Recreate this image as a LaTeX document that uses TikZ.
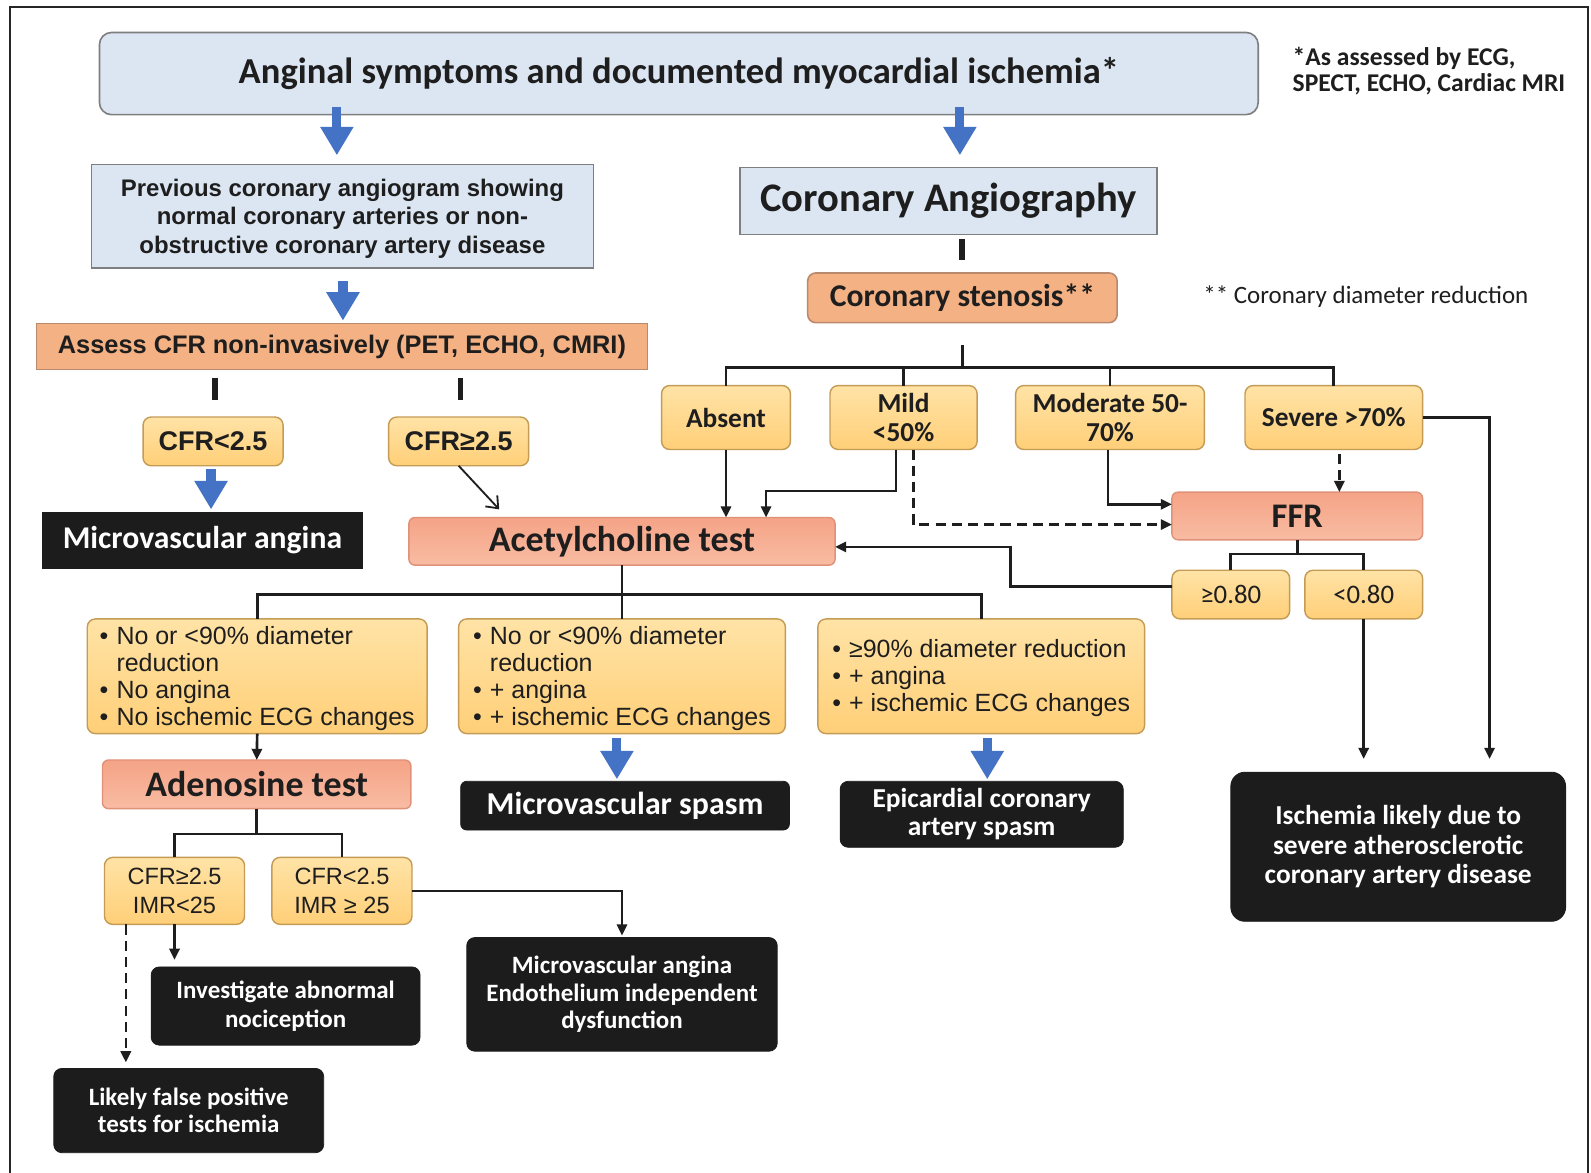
\documentclass[tikz,border=0pt]{standalone}
\usepackage{fontspec}
\setmainfont{Liberation Sans}
\newfontfamily\carl{Carlito}
\usetikzlibrary{arrows.meta,calc}
\definecolor{lblue}{HTML}{DCE6F2}
\definecolor{bordg}{HTML}{7F7F7F}
\definecolor{orng}{HTML}{F4B183}
\definecolor{orngd}{HTML}{B98A6E}
\definecolor{yelt}{HTML}{FFE3A6}
\definecolor{yelb}{HTML}{FFCF78}
\definecolor{yeld}{HTML}{C49C55}
\definecolor{salt}{HTML}{F5A386}
\definecolor{salb}{HTML}{F8BCA3}
\definecolor{sald}{HTML}{E0917A}
\definecolor{blk}{HTML}{1C1C1C}
\definecolor{arrblue}{HTML}{4472C4}
\definecolor{txt}{HTML}{1E1E1E}

\newcommand\bx[7]{%
 \pgfmathsetmacro\bxcx{(#3+#5)/2}%
 \pgfmathsetmacro\bxcy{(#4+#6)/2}%
 \pgfmathsetmacro\bxw{(#5-#3)*0.5}%
 \pgfmathsetmacro\bxh{(#6-#4)*0.5}%
 \node[#2, minimum width=\bxw pt, minimum height=\bxh pt] (#1) at (\bxcx,\bxcy) {#7};}
\newcommand\blist[1]{\raisebox{-1.5pt}[\height][\depth]{\begin{tabular}{@{}l@{\hspace{4pt}}l@{}}#1\end{tabular}}}
\newcommand\clist[1]{\raisebox{-1.5pt}[\height][\depth]{\begin{tabular}{@{}c@{}}#1\end{tabular}}}

\tikzset{
 base/.style={inner sep=0pt, outer sep=0pt, align=center, text=txt},
 bluebox/.style={base, fill=lblue, draw=bordg, line width=0.8pt},
 orbox/.style={base, fill=orng, draw=orngd, line width=0.8pt},
 ybox/.style={base, top color=yelt, bottom color=yelb, draw=yeld, line width=0.7pt, rounded corners=4pt},
 sbox/.style={base, top color=salt, bottom color=salb, draw=sald, line width=0.7pt, rounded corners=3pt},
 kbox/.style={base, fill=blk, draw=blk, text=white, rounded corners=4pt},
 conn/.style={line width=1.3pt, draw=txt},
 arr/.style={conn, -{Triangle[length=5.5pt,width=5pt]}},
 darr/.style={arr, dash pattern=on 5pt off 3pt},
 varr/.style={line width=0.9pt, draw=txt, -{Straight Barb[length=5pt,width=8pt]}},
 barr/.style={line width=4.5pt, draw=arrblue, -{Triangle[length=14pt,width=15.5pt]}},
 tbar/.style={line width=2.6pt, draw=txt},
}

\begin{document}
\begin{tikzpicture}[x=0.5pt,y=-0.5pt]
\useasboundingbox (0,0) rectangle (1568,1156);
\fill[white] (0,0) rectangle (1568,1156);
\draw[line width=1pt, draw=black!85] (10,1170) -- (10,7) -- (1565,7) -- (1565,1170);

% nodes
\bx{top}{bluebox, rounded corners=6pt, font=\carl\bfseries\fontsize{18}{21}\selectfont}{98}{32}{1240}{113}{Anginal symptoms and documented myocardial ischemia*}
\node[base, anchor=west, align=left, font=\carl\bfseries\fontsize{12.6}{13}\selectfont] (note1) at (1274,70) {*As assessed by ECG,\\SPECT, ECHO, Cardiac MRI};
\bx{prev}{bluebox, font=\bfseries\fontsize{11.8}{14}\selectfont}{90}{162}{585}{264}{\clist{Previous coronary angiogram showing\\normal coronary arteries or non-\\obstructive coronary artery disease}}
\bx{angio}{bluebox, font=\carl\bfseries\fontsize{20}{24}\selectfont}{729}{165}{1140}{231}{Coronary Angiography}
\bx{sten}{orbox, rounded corners=4pt, font=\carl\bfseries\fontsize{15.6}{18}\selectfont}{796}{269}{1101}{318}{Coronary stenosis**}
\node[base, anchor=west, font=\carl\fontsize{12.3}{14}\selectfont] (note2) at (1186,292) {** Coronary diameter reduction};
\bx{assess}{orbox, font=\bfseries\fontsize{12.5}{14}\selectfont}{36}{319}{638}{364}{Assess CFR non-invasively (PET, ECHO, CMRI)}
\bx{cfr1}{ybox, font=\bfseries\fontsize{13.3}{15}\selectfont}{141}{411}{279}{459}{CFR<2.5}
\bx{cfr2}{ybox, font=\bfseries\fontsize{13.3}{15}\selectfont}{383}{411}{521}{459}{CFR≥2.5}
\bx{mva}{kbox, rounded corners=0pt, font=\carl\bfseries\fontsize{15.6}{18}\selectfont}{42}{505}{357}{560}{Microvascular angina}
\bx{ach}{sbox, font=\carl\bfseries\fontsize{17.7}{20}\selectfont}{403}{510}{823}{557}{Acetylcholine test}
\bx{absent}{ybox, font=\carl\bfseries\fontsize{13.5}{14}\selectfont}{652}{380}{779}{443}{Absent}
\bx{mild}{ybox, font=\carl\bfseries\fontsize{13.5}{14}\selectfont}{818}{380}{963}{443}{Mild\\<50\%}
\bx{mod}{ybox, font=\carl\bfseries\fontsize{13.5}{14}\selectfont}{1001}{380}{1187}{443}{Moderate 50-\\70\%}
\bx{sev}{ybox, font=\carl\bfseries\fontsize{13.5}{14}\selectfont}{1227}{380}{1402}{443}{Severe >70\%}
\bx{ffr}{sbox, font=\carl\bfseries\fontsize{17}{20}\selectfont}{1155}{485}{1402}{532}{FFR}
\bx{ge}{ybox, font=\carl\fontsize{13.2}{15}\selectfont}{1155}{562}{1271}{610}{≥0.80}
\bx{lt}{ybox, font=\carl\fontsize{13.2}{15}\selectfont}{1286}{562}{1402}{610}{<0.80}
\bx{isch}{kbox, rounded corners=7pt, font=\carl\bfseries\fontsize{13.5}{14.5}\selectfont}{1213}{761}{1543}{908}{Ischemia likely due to\\severe atherosclerotic\\coronary artery disease}
\bx{b1}{ybox, font=\fontsize{12.3}{13.25}\selectfont}{86}{610}{421}{723}{\blist{• & No or <90\% diameter\\ & reduction\\ • & No angina\\ • & No ischemic ECG changes}}
\bx{b2}{ybox, font=\fontsize{12.3}{13.25}\selectfont}{452}{610}{774}{723}{\blist{• & No or <90\% diameter\\ & reduction\\ • & + angina\\ • & + ischemic ECG changes}}
\bx{b3}{ybox, font=\fontsize{12.3}{13.25}\selectfont}{806}{610}{1128}{723}{\blist{• & ≥90\% diameter reduction\\ • & + angina\\ • & + ischemic ECG changes}}
\bx{aden}{sbox, font=\carl\bfseries\fontsize{17.7}{20}\selectfont}{101}{749}{405}{797}{Adenosine test}
\bx{mvs}{kbox, rounded corners=3pt, font=\carl\bfseries\fontsize{15.7}{18}\selectfont}{454}{770}{778}{818}{Microvascular spasm}
\bx{epi}{kbox, rounded corners=4pt, font=\carl\bfseries\fontsize{13.5}{14}\selectfont}{828}{770}{1107}{835}{Epicardial coronary\\artery spasm}
\bx{c1}{ybox, font=\fontsize{11.6}{14.5}\selectfont}{103}{845}{241}{911}{CFR≥2.5\\IMR<25}
\bx{c2}{ybox, font=\fontsize{11.6}{14.5}\selectfont}{268}{845}{406}{911}{CFR<2.5\\IMR ≥ 25}
\bx{inv}{kbox, font=\carl\bfseries\fontsize{12.3}{14}\selectfont}{149}{953}{414}{1030}{Investigate abnormal\\nociception}
\bx{mvad}{kbox, font=\carl\bfseries\fontsize{12.3}{13.5}\selectfont}{460}{924}{766}{1036}{Microvascular angina\\Endothelium independent\\dysfunction}
\bx{lfp}{kbox, font=\carl\bfseries\fontsize{12.3}{13.2}\selectfont}{53}{1053}{319}{1136}{Likely false positive\\tests for ischemia}

% blue arrows
\draw[barr] ($(top.south)+(-337,-8)$) -- ($(prev.north)+(-5.5,-9)$);
\draw[barr] ($(top.south)+(277,-8)$) -- ($(angio.north)+(11.5,-12)$);
\draw[barr] ($(prev.south)+(0.5,13)$) -- ($(assess.north)+(1,-3)$);
\draw[barr] ($(cfr1.south)+(-2,3)$) -- ($(mva.north)+(8.5,-3)$);
\draw[barr] ($(b2.south)+(-5,4)$) -- ($(mvs.north)+(-8,-2)$);
\draw[barr] ($(b3.south)+(6,4)$) -- ($(epi.north)+(5.5,-2)$);

% thick bars
\draw[tbar] ($(angio.south)+(13.5,5)$) -- ($(sten.north)+(-0.5,-13)$);
\draw[tbar] ($(assess.south)+(-125,9)$) -- ($(cfr1.north)+(2,-17)$);
\draw[tbar] ($(assess.south)+(117,9)$) -- ($(cfr2.north)+(2,-17)$);

% stenosis tree
\coordinate (st) at (948.5,362);
\draw[conn] ($(sten.south)+(0,22)$) -- (st);
\draw[conn] (absent.north) |- (st) -| (sev.north);
\draw[conn] (mild.north) -- (mild.north |- st);
\draw[conn] (mod.north) -- (mod.north |- st);

% into acetylcholine / FFR
\draw[arr] (absent.south) -- (absent.south |- ach.north);
\coordinate (m1) at (755,484);
\draw[arr] ($(mild.south)+(-7.5,0)$) |- (m1) -- (m1 |- ach.north);
\draw[darr] ($(mild.south)+(9.5,0)$) |- ($(ffr.west)+(0,8.5)$);
\draw[arr] ($(mod.south)+(-2,0)$) |- ($(ffr.west)+(0,-11.5)$);
\draw[darr] ($(sev.south)+(5.5,4)$) -- ($(ffr.north)+(41.5,0)$);
\draw[arr] (sev.east) -| ($(isch.north)+(90,-13)$);
\draw[varr] (cfr2.south) -- ($(ach.north)+(-121,-8)$);

% FFR tree
\coordinate (ft) at (1278.5,546);
\draw[conn] (ffr.south) -- (ft);
\draw[conn] (ge.north) |- (ft) -| (lt.north);
\coordinate (fb) at (996,539);
\draw[arr] ($(ge.west)+(0,-8)$) -| (fb) -- ($(ach.east)+(0,5.5)$);
\draw[arr] (lt.south) -- ($(isch.north)+(-34,-13)$);

% acetylcholine tree
\coordinate (at) at (613,586);
\draw[conn] (ach.south) -- (at);
\draw[conn] (b1.north) |- (at) -| (b3.north);
\draw[conn] (at) -- (b2.north);
\draw[arr] (b1.south) -- (aden.north);

% adenosine tree
\coordinate (adt) at (253,822);
\draw[conn] (aden.south) -- (adt);
\draw[conn] (c1.north) |- (adt) -| (c2.north);
\draw[arr] (c2.east) -| ($(mvad.north)+(0,-2)$);
\draw[arr] (c1.south) -- ($(c1.south |- inv.north)+(0,-7)$);
\draw[darr] ($(c1.south)+(-48,0)$) -- ($(c1.south |- lfp.north)+(-48,-6)$);
\end{tikzpicture}
\end{document}
